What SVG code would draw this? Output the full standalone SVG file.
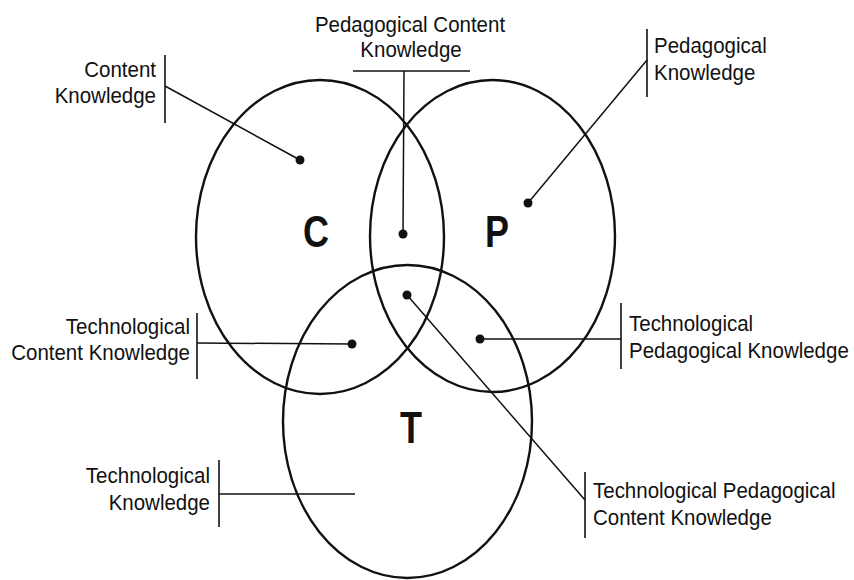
<svg xmlns="http://www.w3.org/2000/svg" width="854" height="580" viewBox="0 0 854 580">
<style>
.circ{fill:none;stroke:#111;stroke-width:2.4}
.ln{fill:none;stroke:#111;stroke-width:1.5}
.br{fill:none;stroke:#111;stroke-width:1.6}
.dot{fill:#111}
.t{font-family:"Liberation Sans",Arial,sans-serif;font-size:20.5px;fill:#111}
.big{font-family:"Liberation Sans",Arial,sans-serif;font-size:36px;font-weight:bold;fill:#111;text-anchor:middle}
</style>
<rect width="854" height="580" fill="#fff"/>
<g id="circle-C">
<ellipse class="circ" cx="320" cy="237" rx="124" ry="157"/>
<text class="big" transform="translate(316,247) scale(1,1.22)">C</text>
</g>
<g id="circle-P">
<ellipse class="circ" cx="492.5" cy="236" rx="122.5" ry="156"/>
<text class="big" transform="translate(497,247) scale(1,1.22)">P</text>
</g>
<g id="circle-T">
<ellipse class="circ" cx="407.5" cy="421.5" rx="124.5" ry="156.5"/>
<text class="big" transform="translate(411,443) scale(1,1.22)">T</text>
</g>
<g id="connectors">
<line class="br" x1="165" y1="55" x2="165" y2="123"/>
<line class="ln" x1="165" y1="86" x2="300" y2="160"/>
<line class="br" x1="353" y1="71" x2="470" y2="71"/>
<line class="ln" x1="404" y1="71" x2="403" y2="234"/>
<line class="br" x1="647" y1="29" x2="647" y2="97"/>
<line class="ln" x1="647" y1="60" x2="528" y2="203"/>
<line class="br" x1="197" y1="313" x2="197" y2="379"/>
<line class="ln" x1="197" y1="343" x2="352" y2="344"/>
<line class="br" x1="621" y1="303" x2="621" y2="369"/>
<line class="ln" x1="621" y1="339" x2="480" y2="339"/>
<line class="br" x1="585" y1="472" x2="585" y2="538"/>
<line class="ln" x1="407" y1="295" x2="585" y2="500"/>
<line class="br" x1="219" y1="460" x2="219" y2="527"/>
<line class="ln" x1="219" y1="494" x2="355" y2="494"/>
<circle class="dot" cx="300" cy="160" r="4.5"/>
<circle class="dot" cx="403" cy="234" r="4.5"/>
<circle class="dot" cx="528" cy="203" r="4.5"/>
<circle class="dot" cx="352" cy="344" r="4.5"/>
<circle class="dot" cx="480" cy="339" r="4.5"/>
<circle class="dot" cx="407" cy="295" r="4.5"/>
</g>
<g id="label-CK">
<text class="t" text-anchor="end" transform="translate(156,77) scale(1,1.1)">Content</text>
<text class="t" text-anchor="end" transform="translate(156,103) scale(1,1.1)">Knowledge</text>
</g>
<g id="label-PCK">
<text class="t" text-anchor="middle" transform="translate(410,32) scale(1,1.1)">Pedagogical Content</text>
<text class="t" text-anchor="middle" transform="translate(411,57) scale(1,1.1)">Knowledge</text>
</g>
<g id="label-PK">
<text class="t" transform="translate(654,53) scale(1,1.1)">Pedagogical</text>
<text class="t" transform="translate(654,80) scale(1,1.1)">Knowledge</text>
</g>
<g id="label-TCK">
<text class="t" text-anchor="end" transform="translate(190,334) scale(1,1.1)">Technological</text>
<text class="t" text-anchor="end" transform="translate(190,360) scale(1,1.1)">Content Knowledge</text>
</g>
<g id="label-TPK">
<text class="t" transform="translate(629,331) scale(1,1.1)">Technological</text>
<text class="t" transform="translate(629,358) scale(1,1.1)">Pedagogical Knowledge</text>
</g>
<g id="label-TPCK">
<text class="t" transform="translate(593,498) scale(1,1.1)">Technological Pedagogical</text>
<text class="t" transform="translate(593,525) scale(1,1.1)">Content Knowledge</text>
</g>
<g id="label-TK">
<text class="t" text-anchor="end" transform="translate(210,483) scale(1,1.1)">Technological</text>
<text class="t" text-anchor="end" transform="translate(210,510) scale(1,1.1)">Knowledge</text>
</g>
</svg>
